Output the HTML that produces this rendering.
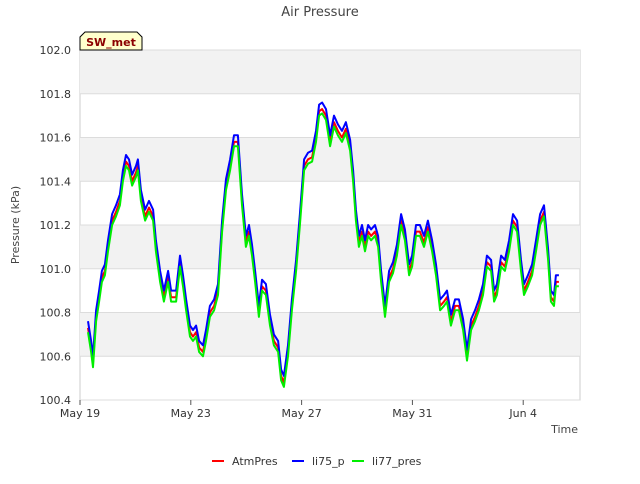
<!DOCTYPE html>
<html><head><meta charset="utf-8"><style>
body{margin:0;background:#fff;font-family:"DejaVu Sans","Liberation Sans",sans-serif;}
svg text{font-family:"DejaVu Sans","Liberation Sans",sans-serif;}
</style></head><body>
<svg id="chart" width="640" height="480">
<text x="320" y="16" text-anchor="middle" font-size="13" fill="#444">Air Pressure</text>
<g id="plot"></g>
<g>
<path d="M80,50 L80,37 L85,32 L137,32 L142,37 L142,50 Z" fill="#ffffcc" stroke="#000" stroke-width="1"/>
<text x="111" y="46" text-anchor="middle" font-size="11" font-weight="bold" fill="#8b0000">SW_met</text>
</g>
<text x="19" y="225" text-anchor="middle" font-size="11" fill="#444" transform="rotate(-90 19 225)">Pressure (kPa)</text>
<text x="578" y="433" text-anchor="end" font-size="11" fill="#444">Time</text>
<g>
<g><line x1="212" y1="461" x2="224" y2="461" stroke="#ff0000" stroke-width="2"/><text x="232" y="465" font-size="11" fill="#333">AtmPres</text></g>
<g><line x1="292" y1="461" x2="304" y2="461" stroke="#0000ff" stroke-width="2"/><text x="312" y="465" font-size="11" fill="#333">li75_p</text></g>
<g><line x1="352" y1="461" x2="364" y2="461" stroke="#00ee00" stroke-width="2"/><text x="372" y="465" font-size="11" fill="#333">li77_pres</text></g>
</g>
</svg>
<script>
const days=[0.29,0.40,0.47,0.58,0.69,0.79,0.90,1.01,1.16,1.30,1.44,1.55,1.66,1.77,1.88,2.02,2.09,2.20,2.35,2.49,2.64,2.74,2.89,3.03,3.18,3.29,3.47,3.61,3.72,3.83,3.97,4.08,4.19,4.30,4.44,4.55,4.69,4.84,4.98,5.13,5.27,5.42,5.56,5.70,5.85,5.99,6.10,6.21,6.32,6.46,6.57,6.71,6.86,7.00,7.15,7.26,7.36,7.51,7.65,7.80,7.94,8.09,8.23,8.38,8.52,8.63,8.74,8.88,9.03,9.17,9.31,9.46,9.60,9.75,9.86,9.96,10.07,10.18,10.29,10.40,10.51,10.65,10.76,10.87,11.01,11.16,11.30,11.44,11.59,11.73,11.88,11.99,12.13,12.27,12.42,12.56,12.71,12.85,13.00,13.14,13.25,13.39,13.54,13.68,13.83,13.97,14.12,14.26,14.40,14.55,14.69,14.84,14.95,15.05,15.20,15.34,15.49,15.63,15.78,15.92,16.03,16.17,16.32,16.46,16.61,16.75,16.90,17.00,17.11,17.18,17.29];
const li75=[100.76,100.67,100.60,100.81,100.90,100.99,101.02,101.13,101.25,101.29,101.34,101.45,101.52,101.50,101.43,101.47,101.50,101.36,101.27,101.31,101.27,101.13,100.99,100.90,100.99,100.90,100.90,101.06,100.97,100.86,100.74,100.72,100.74,100.67,100.65,100.72,100.83,100.86,100.93,101.22,101.41,101.50,101.61,101.61,101.34,101.15,101.20,101.11,100.99,100.83,100.95,100.93,100.79,100.70,100.67,100.54,100.51,100.65,100.86,101.04,101.25,101.50,101.53,101.54,101.63,101.75,101.76,101.73,101.61,101.70,101.66,101.63,101.67,101.59,101.45,101.27,101.15,101.20,101.13,101.20,101.18,101.20,101.15,100.99,100.83,100.99,101.03,101.11,101.25,101.18,101.02,101.06,101.20,101.20,101.15,101.22,101.13,101.02,100.86,100.88,100.90,100.79,100.86,100.86,100.77,100.63,100.77,100.81,100.86,100.93,101.06,101.04,100.90,100.93,101.06,101.04,101.13,101.25,101.22,101.04,100.93,100.97,101.02,101.13,101.25,101.29,101.09,100.90,100.88,100.97,100.97];
const atm=[100.73,100.64,100.57,100.78,100.87,100.96,100.99,101.10,101.22,101.26,101.31,101.42,101.49,101.47,101.40,101.44,101.47,101.33,101.24,101.28,101.24,101.10,100.96,100.87,100.96,100.87,100.87,101.03,100.94,100.83,100.71,100.69,100.71,100.64,100.62,100.69,100.80,100.83,100.90,101.19,101.38,101.47,101.58,101.58,101.31,101.12,101.17,101.08,100.96,100.80,100.92,100.90,100.76,100.67,100.64,100.51,100.48,100.62,100.83,101.01,101.22,101.47,101.50,101.51,101.60,101.72,101.73,101.70,101.58,101.67,101.63,101.60,101.64,101.56,101.42,101.24,101.12,101.17,101.10,101.17,101.15,101.17,101.12,100.96,100.80,100.96,101.00,101.08,101.22,101.15,100.99,101.03,101.17,101.17,101.12,101.19,101.10,100.99,100.83,100.85,100.87,100.76,100.83,100.83,100.74,100.60,100.74,100.78,100.83,100.90,101.03,101.01,100.87,100.90,101.03,101.01,101.10,101.22,101.19,101.01,100.90,100.94,100.99,101.10,101.22,101.26,101.06,100.87,100.85,100.94,100.94];
const li77=[100.71,100.62,100.55,100.76,100.85,100.94,100.97,101.08,101.20,101.24,101.29,101.40,101.47,101.45,101.38,101.42,101.45,101.31,101.22,101.26,101.22,101.08,100.94,100.85,100.94,100.85,100.85,101.01,100.92,100.81,100.69,100.67,100.69,100.62,100.60,100.67,100.78,100.81,100.88,101.17,101.36,101.45,101.56,101.56,101.29,101.10,101.15,101.06,100.94,100.78,100.90,100.88,100.74,100.65,100.62,100.49,100.46,100.60,100.81,100.99,101.20,101.45,101.48,101.49,101.58,101.70,101.71,101.68,101.56,101.65,101.61,101.58,101.62,101.54,101.40,101.22,101.10,101.15,101.08,101.15,101.13,101.15,101.10,100.94,100.78,100.94,100.98,101.06,101.20,101.13,100.97,101.01,101.15,101.15,101.10,101.17,101.08,100.97,100.81,100.83,100.85,100.74,100.81,100.81,100.72,100.58,100.72,100.76,100.81,100.88,101.01,100.99,100.85,100.88,101.01,100.99,101.08,101.20,101.17,100.99,100.88,100.92,100.97,101.08,101.20,101.24,101.04,100.85,100.83,100.92,100.92];
const yTicks=[100.4,100.6,100.8,101.0,101.2,101.4,101.6,101.8,102.0];
const xTickDays=[0,4,8,12,16];
const xTickLabels=["May 19","May 23","May 27","May 31","Jun 4"];

const L=80,R=580,T=50,B=400,yMin=100.4,yMax=102.0,dMin=0,dMax=18.05;
const xs=d=>L+(d-dMin)/(dMax-dMin)*(R-L);
const ys=v=>B-(v-yMin)/(yMax-yMin)*(B-T);
const NS="http://www.w3.org/2000/svg";
const plot=document.getElementById('plot');
function mk(tag,attrs,parent){const e=document.createElementNS(NS,tag);for(const k in attrs)e.setAttribute(k,attrs[k]);(parent||plot).appendChild(e);return e;}
const bg=mk('rect',{x:L,y:T,width:R-L,height:B-T,fill:'#fff',stroke:'#ccc'});


for(let i=0;i<yTicks.length-1;i++){
  if(i%2===1){const b=mk('rect',{x:L,y:ys(yTicks[i+1]),width:R-L,height:ys(yTicks[i])-ys(yTicks[i+1]),fill:'#f2f2f2'});
  
  }
}
yTicks.forEach(v=>{
  const g=mk('line',{x1:L,x2:R,y1:ys(v),y2:ys(v),stroke:'#dcdcdc','stroke-width':1});
  
  
  const t=mk('text',{x:L-9,y:ys(v)+4,'text-anchor':'end','font-size':11,fill:'#333'});
  t.textContent=v.toFixed(1);
  
  
});
xTickDays.forEach((d,i)=>{
  const tk=mk('line',{x1:xs(d),x2:xs(d),y1:B,y2:B+5,stroke:'#555'});
  
  
  const t=mk('text',{x:xs(d),y:B+17,'text-anchor':'middle','font-size':11,fill:'#333'});
  t.textContent=xTickLabels[i];
  
  
});
function series(vals,color,name){
  const n=Math.min(vals.length,days.length);
  let d='';
  for(let i=0;i<n;i++)d+=(i?'L':'M')+xs(days[i]).toFixed(1)+','+ys(vals[i]).toFixed(1);
  const p=mk('path',{d:d,fill:'none',stroke:color,'stroke-width':2,'stroke-linejoin':'round'});
  
  
}
series(atm,'#ff0000','series-atmpres');
series(li75,'#0000ff','series-li75-p');
series(li77,'#00ee00','series-li77-pres');
</script>
</body></html>
